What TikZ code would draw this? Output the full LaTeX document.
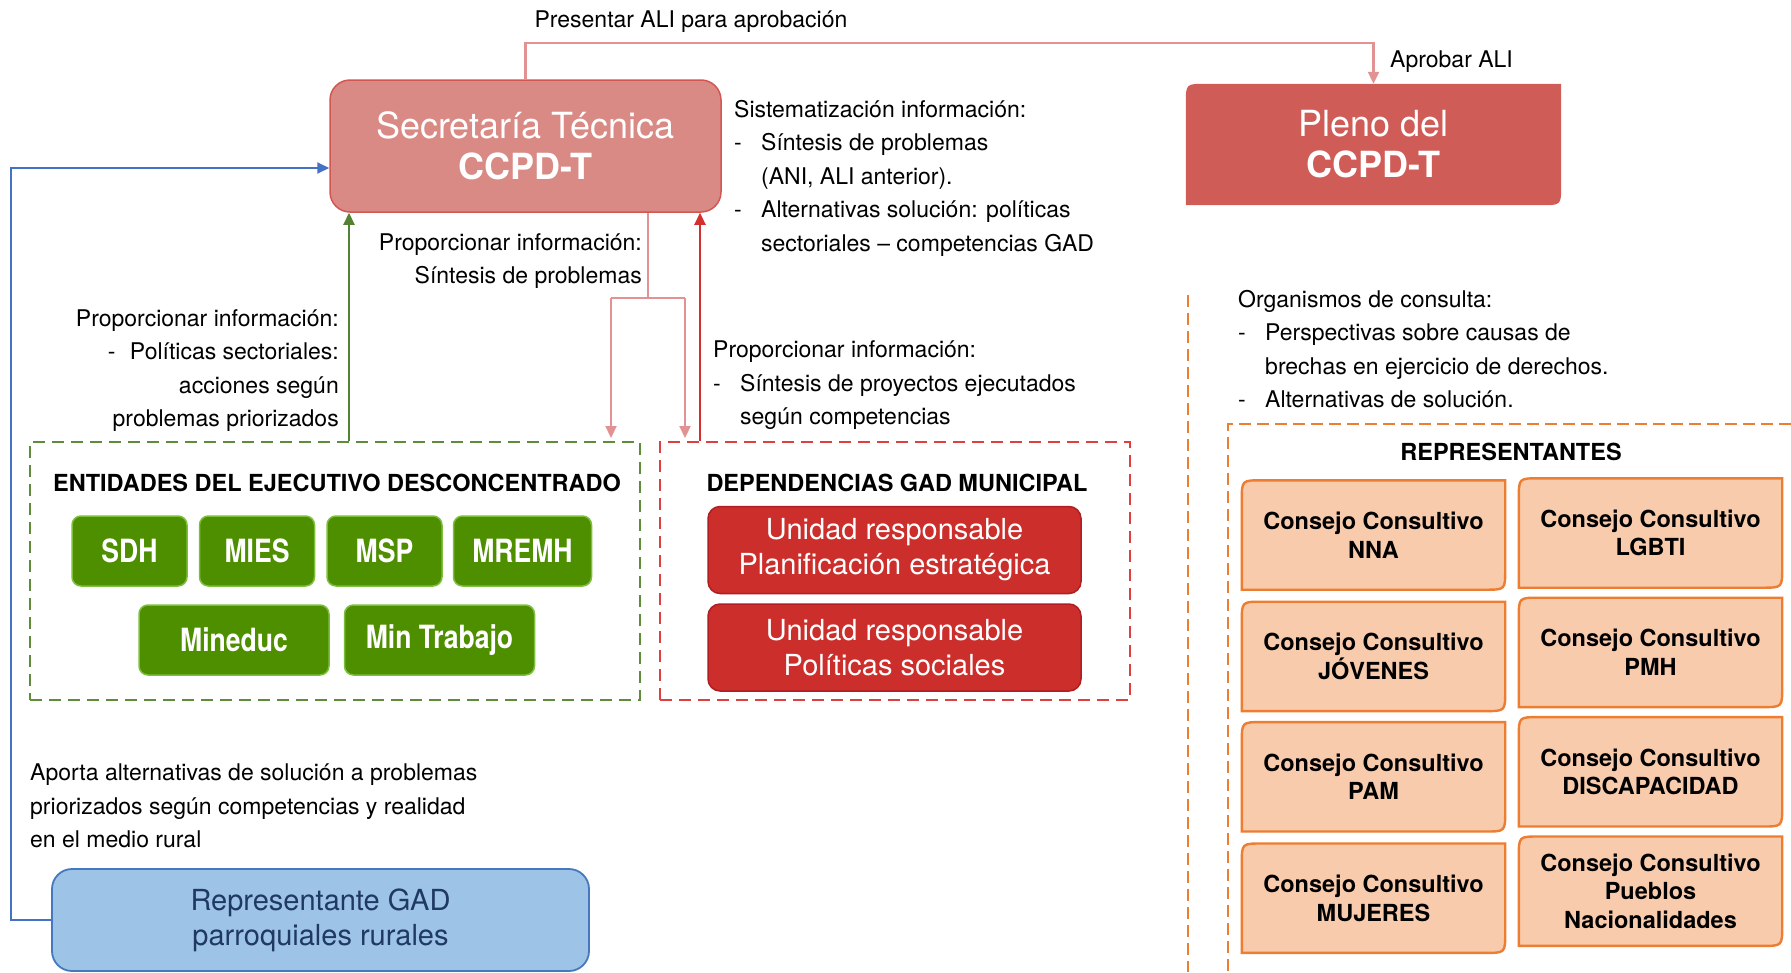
\documentclass[tikz,border=0pt]{standalone}
\usepackage{fontspec}
\setmainfont{TeX Gyre Heros}
\newfontfamily\condfont[FakeStretch=0.83]{TeX Gyre Heros}
\usetikzlibrary{positioning,calc,arrows.meta,backgrounds}
\definecolor{secfill}{RGB}{217,138,133}
\definecolor{secline}{RGB}{212,86,80}
\definecolor{plenofill}{RGB}{208,92,87}
\definecolor{pinkline}{RGB}{226,146,146}
\definecolor{greenline}{RGB}{84,130,53}
\definecolor{redline}{RGB}{211,47,47}
\definecolor{blueline}{RGB}{68,114,196}
\definecolor{ejecline}{RGB}{94,140,58}
\definecolor{gadline}{RGB}{222,64,64}
\definecolor{minfill}{RGB}{78,143,0}
\definecolor{minline}{RGB}{125,190,60}
\definecolor{unifill}{RGB}{204,46,43}
\definecolor{uniline}{RGB}{175,30,35}
\definecolor{consfill}{RGB}{248,203,173}
\definecolor{consline}{RGB}{237,125,49}
\definecolor{rurfill}{RGB}{157,195,230}
\definecolor{rurline}{RGB}{70,120,190}
\definecolor{rurtext}{RGB}{31,56,100}
\tikzset{>={Triangle[length=12pt,width=11pt]}}
\tikzset{
  body/.style={font=\fontsize{23}{33.5}\selectfont, inner sep=0pt, align=left},
  secbox/.style={fill=secfill, draw=secline, line width=1.5pt, rounded corners=20pt,
    minimum width=391pt, minimum height=132pt, text=white, align=center,
    font=\fontsize{36}{41}\selectfont},
  plenobox/.style={minimum width=375pt, minimum height=121pt, text=white, align=center,
    font=\fontsize{36}{41}\selectfont},
  plenoshape/.style={fill=plenofill},
  grpbox/.style={dash pattern=on 12pt off 7pt, line width=2pt, minimum height=258pt},
  grptitle/.style={font=\fontsize{23.5}{28}\selectfont\bfseries, inner sep=0pt},
  minbox/.style={fill=minfill, draw=minline, line width=1.5pt, rounded corners=9pt,
    minimum height=70pt, text=white, inner sep=0pt,
    font=\condfont\bfseries\fontsize{32}{36}\selectfont},
  unibox/.style={fill=unifill, draw=uniline, line width=1.5pt, rounded corners=12pt,
    minimum width=373pt, minimum height=87pt, text=white, align=center, inner sep=0pt,
    font=\fontsize{29}{35}\selectfont},
  consbox/.style={minimum width=263pt, minimum height=109pt, align=center, inner sep=0pt,
    font=\fontsize{23.5}{28.5}\selectfont\bfseries},
  consshape/.style={fill=consfill, draw=consline, line width=2.4pt},
  rurbox/.style={fill=rurfill, draw=rurline, line width=1.8pt, rounded corners=20pt,
    minimum width=537pt, minimum height=102pt, text=rurtext, align=center,
    font=\fontsize{29}{35}\selectfont},
  pinkarrow/.style={->, draw=pinkline, line width=2.2pt},
  greenarrow/.style={->, draw=greenline, line width=2.2pt},
  redarrow/.style={->, draw=redline, line width=2.2pt},
  bluearrow/.style={->, draw=blueline, line width=2pt},
  orgline/.style={draw=consline, line width=2pt, dash pattern=on 12pt off 6pt}
}
\def\itemdash{\makebox[27pt][l]{-}}
\def\itemgap{\hspace*{27pt}}
\def\cutbox#1#2{
  \begin{scope}[on background layer]
  \path[#2] (#1.south west) -- ($(#1.north west)+(0,20)$)
    .. controls (#1.north west) .. ($(#1.north west)+(20,0)$)
    -- (#1.north east) -- ($(#1.south east)+(0,-20)$)
    .. controls (#1.south east) .. ($(#1.south east)+(-20,0)$) -- cycle;
  \end{scope}
}

\begin{document}
\begin{tikzpicture}[x=1pt,y=-1pt]
\useasboundingbox (0,0) rectangle (1791,972);

% secretaria y pleno
\node[secbox] (sec) at (525.5,146) {Secretaría Técnica\\\textbf{CCPD-T}};
\node[plenobox] (pleno) at (1373.5,144.5) {Pleno del\\\textbf{CCPD-T}};
\cutbox{pleno}{plenoshape}
\node[body] (presentar) at (691,22) {Presentar ALI para aprobación};
\node[body,anchor=west] (aprobar) at (1390,62) {Aprobar ALI};
\draw[pinkarrow] (sec.north) -- ++(0,-36) -| (pleno.north);

% grupos
\node[grpbox, draw=ejecline, minimum width=610pt] (ejec) at (335,571) {};
\node[grpbox, draw=gadline, minimum width=470pt] (gad) at (895,571) {};
\node[grptitle] (ejectitle) at (337,483) {ENTIDADES DEL EJECUTIVO DESCONCENTRADO};
\node[grptitle] (gadtitle) at (897,483) {DEPENDENCIAS GAD MUNICIPAL};

\node[minbox, minimum width=115pt] (sdh) at (129.5,551) {SDH};
\node[minbox, minimum width=115pt, right=11pt of sdh] (mies) {MIES};
\node[minbox, minimum width=115pt, right=11pt of mies] (msp) {MSP};
\node[minbox, minimum width=138pt, right=10pt of msp] (mremh) {MREMH};
\node[minbox, minimum width=190pt] (mineduc) at (234,640) {Mineduc};
\node[minbox, minimum width=190pt, right=14pt of mineduc] (trabajo) {Min Trabajo};

\node[unibox] (plan) at (894.5,550) {Unidad responsable\\Planificación estratégica};
\node[unibox, below=9pt of plan] (sociales) {Unidad responsable\\Políticas sociales};

% flujos de informacion
\coordinate (gx) at (349,0);
\coordinate (rx) at (700,0);
\coordinate (split) at (648,298);
\coordinate (sL) at (611,298);
\coordinate (sR) at (685,298);
\draw[greenarrow] (ejec.north -| gx) -- (sec.south -| gx);
\draw[redarrow] (gad.north -| rx) -- (sec.south -| rx);
\draw[draw=pinkline, line width=2.2pt] (sec.south -| split) -- (split);
\draw[draw=pinkline, line width=2.2pt] (sL) -- (sR);
\draw[pinkarrow, shorten >=3pt] (sL) -- (sL |- ejec.north);
\draw[pinkarrow, shorten >=3pt] (sR) -- (sR |- gad.north);

\node[body, anchor=west] (sistem) at (734,178) {Sistematización información:\\
  \itemdash Síntesis de problemas\\
  \itemgap (ANI, ALI anterior).\\
  \itemdash Alternativas solución: políticas\\
  \itemgap sectoriales – competencias GAD};
\node[body, anchor=east, align=right] (sintesis) at (642,261)
  {Proporcionar información:\\Síntesis de problemas};
\node[body, anchor=east, align=right] (polit) at (339,370.5) {Proporcionar información:\\
  \makebox[22pt][l]{-}Políticas sectoriales:\\acciones según\\problemas priorizados};
\node[body, anchor=west] (proyectos) at (713,385.5) {Proporcionar información:\\
  \itemdash Síntesis de proyectos ejecutados\\
  \itemgap según competencias};

% gad parroquiales
\node[rurbox] (rural) at (320.5,920) {Representante GAD\\parroquiales rurales};
\node[body, anchor=west] (aporta) at (30,806) {Aporta alternativas de solución a problemas\\
  priorizados según competencias y realidad\\en el medio rural};
\coordinate (bx) at (11,168);
\draw[bluearrow] (rural.west) -| (bx) -- (bx -| sec.west);

% organismos de consulta
\draw[orgline] (1188,295) -- (1188,972);
\draw[orgline] (1791,424) -- (1228,424) -- (1228,972);
\node[body, anchor=west] (organismos) at (1238,349) {Organismos de consulta:\\
  \itemdash Perspectivas sobre causas de\\
  \itemgap brechas en ejercicio de derechos.\\
  \itemdash Alternativas de solución.};
\node[grptitle] (repres) at (1511,452) {REPRESENTANTES};

\node[consbox] (nna) at (1373.5,535) {Consejo Consultivo\\NNA};
\node[consbox, below=12pt of nna] (jov) {Consejo Consultivo\\JÓVENES};
\node[consbox, below=11pt of jov] (pam) {Consejo Consultivo\\PAM};
\node[consbox, below=12pt of pam] (muj) {Consejo Consultivo\\MUJERES};
\node[consbox] (lgbti) at (1650.5,533) {Consejo Consultivo\\LGBTI};
\node[consbox, below=10pt of lgbti] (pmh) {Consejo Consultivo\\PMH};
\node[consbox, below=10pt of pmh] (disc) {Consejo Consultivo\\DISCAPACIDAD};
\node[consbox, below=10pt of disc] (pueb) {Consejo Consultivo\\Pueblos\\Nacionalidades};
\cutbox{nna}{consshape}
\cutbox{jov}{consshape}
\cutbox{pam}{consshape}
\cutbox{muj}{consshape}
\cutbox{lgbti}{consshape}
\cutbox{pmh}{consshape}
\cutbox{disc}{consshape}
\cutbox{pueb}{consshape}
\end{tikzpicture}
\end{document}
